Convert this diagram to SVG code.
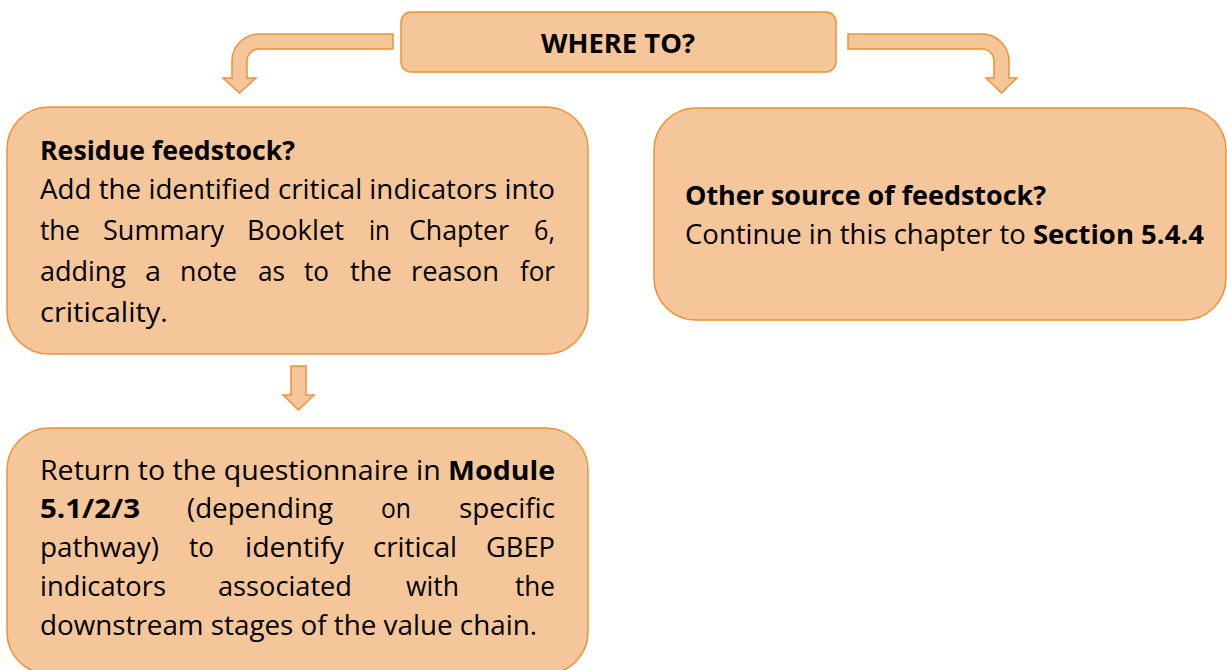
<svg xmlns="http://www.w3.org/2000/svg" width="1227" height="670" viewBox="0 0 1227 670">
<style>
.box{fill:#F5C699;stroke:#EE9135;stroke-width:1.5}
.arr{fill:#F5C699;stroke:#EE9135;stroke-width:1.5;stroke-linejoin:miter}
text{font-family:"Open Sans","Noto Sans","DejaVu Sans",sans-serif;font-size:27px;fill:#000}
.b{font-weight:bold}
</style>
<rect width="1227" height="670" fill="#fff"/>
<g id="connectors">
<path class="arr" d="M393,34 L259,34 A27,27 0 0 0 232,61 L232,78 L223,78 L239.5,93 L256,78 L247,78 L247,61 A12,12 0 0 1 259,49 L393,49 Z"/>
<path class="arr" d="M848,34 L982,34 A27,27 0 0 1 1009,61 L1009,78 L1017,78 L1001.5,93 L986,78 L994,78 L994,61 A12,12 0 0 0 982,49 L848,49 Z"/>
<path class="arr" d="M291,366 L306,366 L306,395 L314,395 L298.5,410 L283,395 L291,395 Z"/>
</g>
<g id="where-to">
<rect class="box" x="401" y="12" width="435" height="60" rx="10"/>
<text class="b" x="541" y="53" textLength="154" lengthAdjust="spacingAndGlyphs">WHERE TO?</text>
</g>
<g id="residue">
<rect class="box" x="7" y="107" width="581" height="247" rx="42"/>
<text class="b" x="40" y="160" textLength="255" lengthAdjust="spacingAndGlyphs">Residue feedstock?</text>
<text x="40" y="199" textLength="515" lengthAdjust="spacingAndGlyphs">Add the identified critical indicators into</text>
<g>
<text x="40" y="240" textLength="40" lengthAdjust="spacingAndGlyphs">the</text>
<text x="103" y="240" textLength="121" lengthAdjust="spacingAndGlyphs">Summary</text>
<text x="247" y="240" textLength="97" lengthAdjust="spacingAndGlyphs">Booklet</text>
<text x="369" y="240" textLength="21" lengthAdjust="spacingAndGlyphs">in</text>
<text x="409" y="240" textLength="100" lengthAdjust="spacingAndGlyphs">Chapter</text>
<text x="534" y="240" textLength="21" lengthAdjust="spacingAndGlyphs">6,</text>
</g>
<g>
<text x="40" y="281" textLength="86" lengthAdjust="spacingAndGlyphs">adding</text>
<text x="145" y="281" textLength="16" lengthAdjust="spacingAndGlyphs">a</text>
<text x="180" y="281" textLength="57" lengthAdjust="spacingAndGlyphs">note</text>
<text x="258" y="281" textLength="27" lengthAdjust="spacingAndGlyphs">as</text>
<text x="304" y="281" textLength="25" lengthAdjust="spacingAndGlyphs">to</text>
<text x="350" y="281" textLength="42" lengthAdjust="spacingAndGlyphs">the</text>
<text x="411" y="281" textLength="88" lengthAdjust="spacingAndGlyphs">reason</text>
<text x="520" y="281" textLength="35" lengthAdjust="spacingAndGlyphs">for</text>
</g>
<text x="40" y="322" textLength="128" lengthAdjust="spacingAndGlyphs">criticality.</text>
</g>
<g id="other-source">
<rect class="box" x="654" y="108" width="572" height="212" rx="42"/>
<text class="b" x="685" y="205" textLength="361" lengthAdjust="spacingAndGlyphs">Other source of feedstock?</text>
<text x="685" y="244" textLength="519" lengthAdjust="spacingAndGlyphs">Continue in this chapter to <tspan class="b">Section 5.4.4</tspan></text>
</g>
<g id="return">
<rect class="box" x="7" y="428" width="581" height="246" rx="42"/>
<text x="40" y="480" textLength="515" lengthAdjust="spacingAndGlyphs">Return to the questionnaire in <tspan class="b">Module</tspan></text>
<g>
<text class="b" x="40" y="518" textLength="100" lengthAdjust="spacingAndGlyphs">5.1/2/3</text>
<text x="187" y="518" textLength="146" lengthAdjust="spacingAndGlyphs">(depending</text>
<text x="381" y="518" textLength="30" lengthAdjust="spacingAndGlyphs">on</text>
<text x="459" y="518" textLength="96" lengthAdjust="spacingAndGlyphs">specific</text>
</g>
<g>
<text x="40" y="557" textLength="119" lengthAdjust="spacingAndGlyphs">pathway)</text>
<text x="189" y="557" textLength="25" lengthAdjust="spacingAndGlyphs">to</text>
<text x="245" y="557" textLength="99" lengthAdjust="spacingAndGlyphs">identify</text>
<text x="373" y="557" textLength="84" lengthAdjust="spacingAndGlyphs">critical</text>
<text x="486" y="557" textLength="69" lengthAdjust="spacingAndGlyphs">GBEP</text>
</g>
<g>
<text x="40" y="596" textLength="126" lengthAdjust="spacingAndGlyphs">indicators</text>
<text x="218" y="596" textLength="134" lengthAdjust="spacingAndGlyphs">associated</text>
<text x="406" y="596" textLength="53" lengthAdjust="spacingAndGlyphs">with</text>
<text x="515" y="596" textLength="40" lengthAdjust="spacingAndGlyphs">the</text>
</g>
<text x="40" y="635" textLength="497" lengthAdjust="spacingAndGlyphs">downstream stages of the value chain.</text>
</g>
</svg>
